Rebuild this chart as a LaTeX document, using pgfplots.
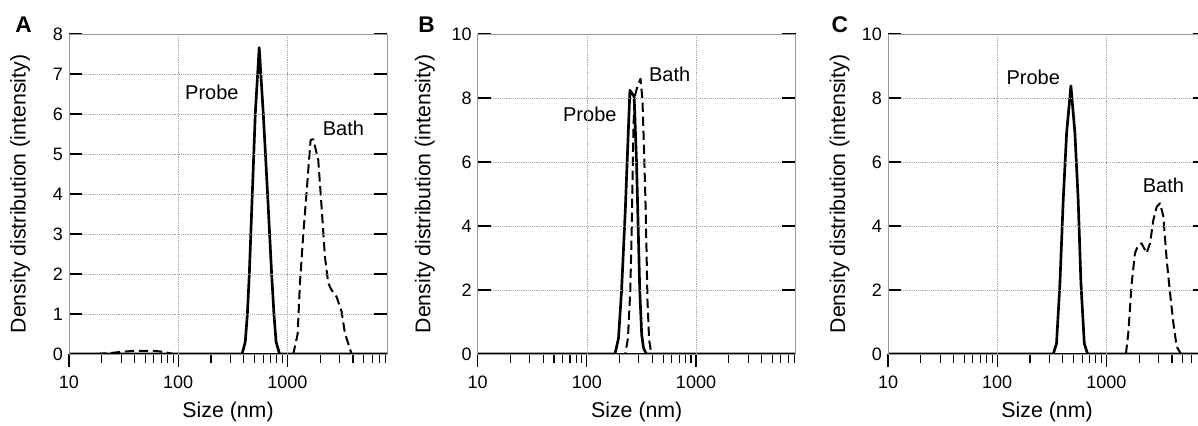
\documentclass[border=0pt]{standalone}
\usepackage{fontspec}
\setmainfont{Liberation Sans}
\usepackage{pgfplots}
\pgfplotsset{compat=1.18}
\newcommand{\tickfont}{\fontsize{13.5}{16}\selectfont}
\newcommand{\labfont}{\fontsize{16}{19}\selectfont}

\pgfplotsset{
 every axis/.append style={
  scale only axis, width=238.5pt, height=240pt,
  xmin=10, xmax=8200,
  ymin=0,
  xtick={10,100,1000}, xticklabels={10,100,1000},
  minor xtick={20,30,40,50,60,70,80,90,200,300,400,500,600,700,800,900,2000,3000,4000,5000,6000,7000,8000},
  xtick pos=left, ytick pos=both,
  xtick align=outside, ytick align=inside,
  major tick length=10pt, minor tick length=7pt,
  tick style={black, line width=0.8pt},
  grid=major, major grid style={densely dotted, gray!70, line width=0.5pt},
  axis line style={gray!80, line width=0.7pt},
  axis on top,
  xlabel={Size (nm)}, ylabel={Density distribution (intensity)},
  x label style={at={(axis description cs:0.5,-0.181)}, anchor=center},
  anchor=south west,
 },
}
\tikzset{
 probe/.style={black, line width=2pt, solid, line join=round},
 bath/.style={black, line width=1.5pt, dash pattern=on 7pt off 3.5pt, line join=round},
 annot/.style={font=\fontsize{15}{18}\selectfont},
}

\begin{document}
\begin{tikzpicture}
\path[use as bounding box] (0,0) rectangle (898.5pt,-318.75pt);
\clip (0,0) rectangle (898.5pt,-318.75pt);

% Panel A
\begin{semilogxaxis}[at={(51.75pt,-265.5pt)}, ymax=8, ytick={0,1,2,3,4,5,6,7,8},
  yticklabels={0,1,2,3,4,5,6,7,8},
  xticklabel style={font=\tickfont, yshift=-3.2pt},
  yticklabel style={font=\tickfont, xshift=-1pt},
  every axis label/.append style={font=\labfont},
  y label style={at={(axis description cs:-0.154,0.5)}, anchor=center}]
\addplot[bath] coordinates {(10,0)(18,0)(25,0.03)(32,0.06)(40,0.08)(60,0.08)(75,0.05)(90,0)(1135,0)(1245,0.5)(1306,1.77)(1402,3.0)(1525,4.27)(1636,5.35)(1730,5.37)(1923,4.85)(2062,3.68)(2213,2.43)(2374,1.77)(2548,1.6)(2831,1.43)(3146,1.06)(3376,0.52)(3884,0)(8200,0)};
\addplot[probe] coordinates {(10,0)(385,0)(412,0.3)(431,1)(449,2)(478,4)(509,6)(553,7.66)(603,6)(660,4)(719,2)(755,1)(790,0.3)(850,0)(8200,0)};
\node[annot] at (axis cs:204,6.53) {Probe};
\node[annot] at (axis cs:3266,5.65) {Bath};
\draw[black, line width=1.6pt] (rel axis cs:0,0) -- (rel axis cs:1,0);
\draw[black, line width=0.8pt] (rel axis cs:0,0) -- (rel axis cs:0,1);
\end{semilogxaxis}

% Panel B
\begin{semilogxaxis}[at={(358.3pt,-265.5pt)}, ymax=10, ytick={0,2,4,6,8,10},
  yticklabels={0,2,4,6,8,10},
  xticklabel style={font=\tickfont, yshift=-3.2pt},
  yticklabel style={font=\tickfont, xshift=-1pt},
  every axis label/.append style={font=\labfont},
  y label style={at={(axis description cs:-0.166,0.5)}, anchor=center}]
\addplot[bath] coordinates {(10,0)(225,0)(238,0.5)(250,2.0)(258,4.0)(265,6.5)(272,8.0)(290,8.35)(310,8.6)(323,7.95)(334,6.38)(344,4.82)(352,3.25)(359,1.69)(372,0.44)(390,0)(8200,0)};
\addplot[probe] coordinates {(10,0)(181,0)(195,0.5)(208,2)(225,4.5)(240,7)(248,8.24)(271,8.05)(285,6)(295,4)(305,2)(318,0.6)(330,0.2)(350,0)(8200,0)};
\node[annot] at (axis cs:106.4,7.5) {Probe};
\node[annot] at (axis cs:574,8.75) {Bath};
\draw[black, line width=1.6pt] (rel axis cs:0,0) -- (rel axis cs:1,0);
\draw[black, line width=0.8pt] (rel axis cs:0,0) -- (rel axis cs:0,1);
\end{semilogxaxis}

% Panel C
\begin{semilogxaxis}[at={(666pt,-265.5pt)}, ymax=10, ytick={0,2,4,6,8,10},
  yticklabels={0,2,4,6,8,10},
  xticklabel style={font=\tickfont, yshift=-3.2pt},
  yticklabel style={font=\tickfont, xshift=-1pt},
  every axis label/.append style={font=\labfont},
  y label style={at={(axis description cs:-0.152,0.5)}, anchor=center}]
\addplot[bath] coordinates {(10,0)(1514,0)(1591,0.65)(1708,2.2)(1831,3.15)(1937,3.36)(2107,3.46)(2343,3.15)(2516,3.46)(2700,4.19)(2896,4.6)(3107,4.71)(3333,4.3)(3578,2.94)(3839,1.9)(4120,0.96)(4418,0.23)(4841,0)(8200,0)};
\addplot[probe] coordinates {(10,0)(327,0)(350,0.33)(376,2.2)(403,4.8)(433,6.9)(474,8.38)(516,6.9)(553,4.8)(586,2.2)(629,0.33)(674,0)(8200,0)};
\node[annot] at (axis cs:214,8.63) {Probe};
\node[annot] at (axis cs:3335,5.28) {Bath};
\draw[black, line width=1.6pt] (rel axis cs:0,0) -- (rel axis cs:1,0);
\draw[black, line width=0.8pt] (rel axis cs:0,0) -- (rel axis cs:0,1);
\end{semilogxaxis}

\node[font=\bfseries\fontsize{17}{20}\selectfont] at (17.6pt,-18.75pt) {A};
\node[font=\bfseries\fontsize{17}{20}\selectfont] at (320pt,-18.75pt) {B};
\node[font=\bfseries\fontsize{17}{20}\selectfont] at (629.8pt,-18.75pt) {C};
\end{tikzpicture}
\end{document}
